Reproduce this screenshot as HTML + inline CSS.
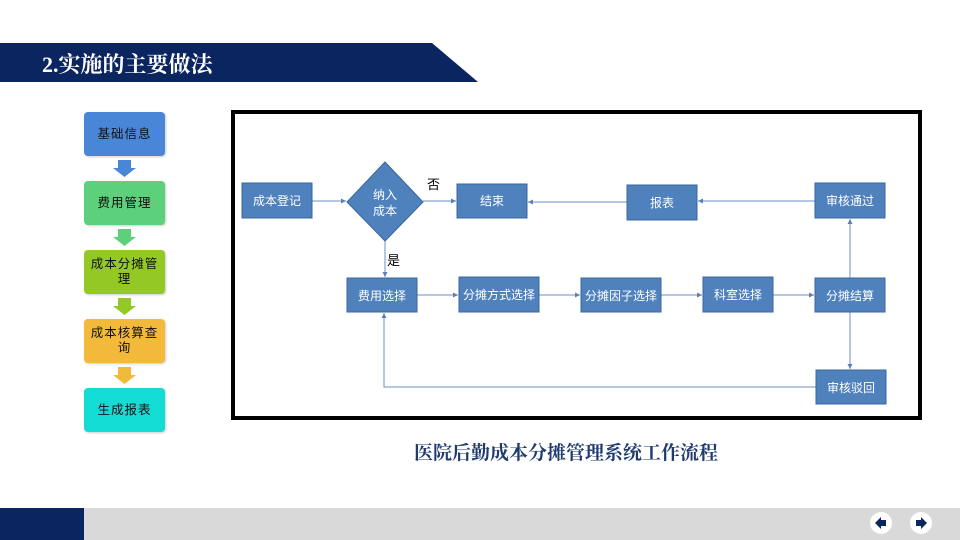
<!DOCTYPE html>
<html><head><meta charset="utf-8"><style>
html,body{margin:0;padding:0;background:#fff;}
body{width:960px;height:540px;position:relative;overflow:hidden;font-family:"Liberation Sans","Noto Sans CJK SC",sans-serif;}
.lb{position:absolute;left:84px;width:81px;height:44px;border-radius:4px;display:flex;align-items:center;justify-content:center;text-align:center;font-size:12.5px;line-height:15px;color:#111;letter-spacing:1px;box-shadow:1px 1px 2px rgba(0,0,0,.2);}
</style></head><body>
<svg width="960" height="540" style="position:absolute;left:0;top:0">
<polygon points="0,43 432,43 478,82 0,82" fill="#0a2560"/>
<text x="42" y="72" fill="#fff" font-size="22" font-weight="bold" font-family="Liberation Serif,Noto Serif CJK SC,serif">2.实施的主要做法</text>
<g>
<polygon points="118,160 131,160 131,168 136,168 124.5,177 113,168 118,168" fill="#4a86d8"/>
<polygon points="118,229 131,229 131,237 136,237 124.5,246 113,237 118,237" fill="#5cd07a"/>
<polygon points="118,298 131,298 131,306 136,306 124.5,315 113,306 118,306" fill="#93c825"/>
<polygon points="118,367 131,367 131,375 136,375 124.5,384 113,375 118,375" fill="#f3b93a"/>
</g>
<rect x="233" y="112" width="687" height="306" fill="#fff" stroke="#000" stroke-width="4"/>
<defs><marker id="a" markerWidth="6" markerHeight="6" refX="5" refY="3" orient="auto"><path d="M0,0.5 L5,3 L0,5.5z" fill="#5b80b8"/></marker></defs>
<g stroke="#6e8fc4" stroke-width="1" fill="none" marker-end="url(#a)">
<line x1="312" y1="201" x2="346" y2="201"/>
<line x1="423" y1="201" x2="456" y2="201"/>
<line x1="627" y1="202" x2="528" y2="202"/>
<line x1="815" y1="201" x2="698" y2="201"/>
<line x1="385" y1="241" x2="385" y2="277"/>
<line x1="417" y1="295" x2="458" y2="295"/>
<line x1="539" y1="295" x2="580" y2="295"/>
<line x1="661" y1="295" x2="702" y2="295"/>
<line x1="773" y1="295" x2="814" y2="295"/>
<line x1="850" y1="278" x2="850" y2="219"/>
<line x1="850" y1="312" x2="850" y2="369"/>
<polyline points="816,387 384,387 384,313"/>
</g>
<g fill="#4f81bd" stroke="#38669c" stroke-width="1">
<rect x="242" y="183" width="70" height="35"/>
<polygon points="385,162 423,202 385,241 347,202"/>
<rect x="457" y="184" width="70" height="34"/>
<rect x="627" y="185" width="70" height="35"/>
<rect x="815" y="183" width="70" height="35"/>
<rect x="347" y="278" width="70" height="34"/>
<rect x="459" y="277" width="80" height="35"/>
<rect x="581" y="278" width="80" height="34"/>
<rect x="703" y="277" width="70" height="35"/>
<rect x="815" y="278" width="70" height="34"/>
<rect x="816" y="370" width="70" height="34"/>
</g>
<g fill="#fff" font-size="12" text-anchor="middle" font-family="Liberation Sans,Noto Sans CJK SC,sans-serif">
<text x="277" y="205">成本登记</text>
<text x="385" y="199">纳入</text>
<text x="385" y="215">成本</text>
<text x="492" y="205">结束</text>
<text x="662" y="207">报表</text>
<text x="850" y="205">审核通过</text>
<text x="382" y="300">费用选择</text>
<text x="499" y="299">分摊方式选择</text>
<text x="621" y="300">分摊因子选择</text>
<text x="738" y="299">科室选择</text>
<text x="850" y="300">分摊结算</text>
<text x="851" y="392">审核驳回</text>
</g>
<g fill="#000" font-size="13" font-family="Liberation Sans,Noto Sans CJK SC,sans-serif">
<text x="427" y="189">否</text>
<text x="387" y="265">是</text>
</g>
<text x="566" y="459" text-anchor="middle" fill="#1f3a6e" font-size="19" font-weight="bold" font-family="Liberation Serif,Noto Serif CJK SC,serif">医院后勤成本分摊管理系统工作流程</text>
<rect x="0" y="508" width="960" height="32" fill="#d9d9d9"/>
<rect x="0" y="508" width="84" height="32" fill="#0a2560"/>
<circle cx="881" cy="523" r="11" fill="#fff"/>
<circle cx="921" cy="523" r="11" fill="#fff"/>
<polygon points="875,523 881,517 881,520 886,520 886,526 881,526 881,529" fill="#0a2560"/>
<polygon points="927,523 921,517 921,520 916,520 916,526 921,526 921,529" fill="#0a2560"/>
</svg>
<div class="lb" style="top:112px;background:#4a86d8">基础信息</div>
<div class="lb" style="top:181px;background:#5cd07a">费用管理</div>
<div class="lb" style="top:250px;background:#93c825">成本分摊管<br>理</div>
<div class="lb" style="top:319px;background:#f3b93a">成本核算查<br>询</div>
<div class="lb" style="top:388px;background:#12dcd4">生成报表</div>
</body></html>
